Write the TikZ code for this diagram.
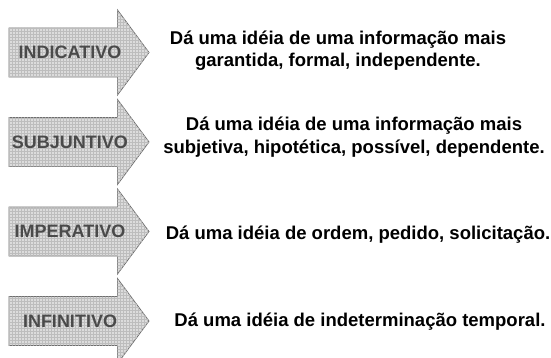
\documentclass[tikz,border=0pt]{standalone}
\usepackage{fontspec}
\setmainfont{Liberation Sans}
\usetikzlibrary{patterns}

\definecolor{arrowgray}{HTML}{6E6E6E}
\definecolor{fillgray}{HTML}{DCDCDC}
\definecolor{gridgray}{HTML}{BDBDBD}
\definecolor{moodgray}{HTML}{4A4A4A}

\begin{document}
\begin{tikzpicture}[x=1pt, y=-1pt,
    arrow style/.style={draw=arrowgray, line width=0.8pt, fill=fillgray,
        postaction={pattern=grid, pattern color=gridgray}},
    mood style/.style={font=\bfseries\fontsize{18}{20}\selectfont, text=moodgray},
    meaning style/.style={font=\bfseries\fontsize{18.5}{22.5}\selectfont, align=center},]
    \useasboundingbox (0,0) rectangle (551,358);
    %\draw (0,0) rectangle (551,358);

    \pgfmathsetmacro{\bodylen}{108.5}
    \pgfmathsetmacro{\bodyhalf}{24.5}
    \pgfmathsetmacro{\flange}{18}
    \pgfmathsetmacro{\headlen}{31.5}

    \coordinate (a1) at (9,52.5);
    \coordinate (a2) at (9,142);
    \coordinate (a3) at (9,231.5);
    \coordinate (a4) at (9,321);

    % arrows
    \draw[style=arrow style] (a1) ++(0,-\bodyhalf) -- ++(\bodylen,0) -- ++(0,-\flange)
        -- ++(\headlen,{\bodyhalf+\flange}) -- ++(-\headlen,{\bodyhalf+\flange})
        -- ++(0,-\flange) -- ++(-\bodylen,0) -- cycle;
    \draw[style=arrow style] (a2) ++(0,-\bodyhalf) -- ++(\bodylen,0) -- ++(0,-\flange)
        -- ++(\headlen,{\bodyhalf+\flange}) -- ++(-\headlen,{\bodyhalf+\flange})
        -- ++(0,-\flange) -- ++(-\bodylen,0) -- cycle;
    \draw[style=arrow style] (a3) ++(0,-\bodyhalf) -- ++(\bodylen,0) -- ++(0,-\flange)
        -- ++(\headlen,{\bodyhalf+\flange}) -- ++(-\headlen,{\bodyhalf+\flange})
        -- ++(0,-\flange) -- ++(-\bodylen,0) -- cycle;
    \draw[style=arrow style] (a4) ++(0,-\bodyhalf) -- ++(\bodylen,0) -- ++(0,-\flange)
        -- ++(\headlen,{\bodyhalf+\flange}) -- ++(-\headlen,{\bodyhalf+\flange})
        -- ++(0,-\flange) -- ++(-\bodylen,0) -- cycle;

    % moods
    \node[mood style] (indicativo) at (70,52.5) {INDICATIVO};
    \node[mood style] (subjuntivo) at (70,142) {SUBJUNTIVO};
    \node[mood style] (imperativo) at (70,231.5) {IMPERATIVO};
    \node[mood style] (infinitivo) at (70,321) {INFINITIVO};

    % meanings
    \node[meaning style] (indtext) at (338,50.5)
        {Dá uma idéia de uma informação mais\\garantida, formal, independente.};
    \node[meaning style] (subtext) at (354,137)
        {Dá uma idéia de uma informação mais\\subjetiva, hipotética, possível, dependente.};
    \node[meaning style, anchor=base] (imptext) at (358,239)
        {Dá uma idéia de ordem, pedido, solicitação.};
    \node[meaning style, anchor=base] (inftext) at (360,326)
        {Dá uma idéia de indeterminação temporal.};

\end{tikzpicture}
\end{document}
